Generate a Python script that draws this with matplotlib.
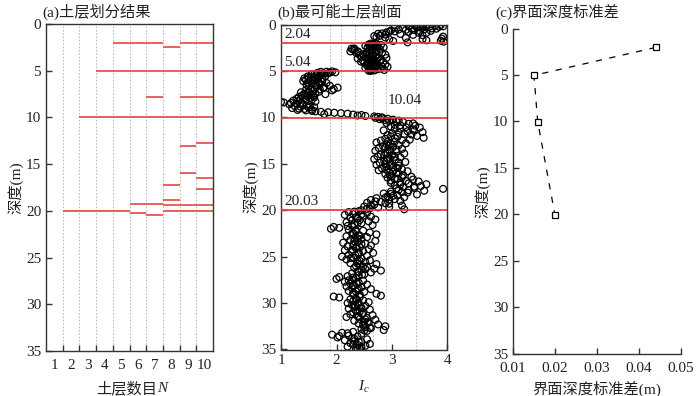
import numpy as np
import matplotlib
matplotlib.use('Agg')
import matplotlib.pyplot as plt

plt.rcParams['font.family'] = ['Liberation Serif', 'Noto Sans CJK SC']
plt.rcParams['mathtext.fontset'] = 'custom'
plt.rcParams['mathtext.rm'] = 'Liberation Serif'
plt.rcParams['mathtext.it'] = 'Liberation Serif:italic'
plt.rc('xtick', labelsize=11, direction='in')
plt.rc('ytick', labelsize=11, direction='in')
plt.rc('xtick.major', size=4, width=1)
plt.rc('ytick.major', size=4, width=1)

# (a) layer boundaries found for each number of layers N = 1..10
n_layers = [1, 2, 3, 4, 5, 6, 7, 8, 9, 10]
layer_bounds = [
    [],
    [20.0],
    [10.0, 20.0],
    [5.0, 10.0, 20.0],
    [2.0, 5.0, 10.0, 20.0],
    [2.0, 5.0, 10.0, 19.3, 20.2],
    [2.0, 5.0, 7.8, 10.0, 19.3, 20.4],
    [2.5, 5.0, 10.0, 17.2, 18.8, 19.4, 20.0],
    [2.0, 5.0, 7.8, 10.0, 13.1, 16.0, 19.4, 20.0],
    [2.0, 5.0, 7.8, 10.0, 12.7, 16.5, 17.7, 19.4, 20.0],
]

# (b) CPT soil behaviour index Ic with depth, per layer
d1 = [0.08, 0.12, 0.15, 0.18, 0.22, 0.25, 0.30, 0.35, 0.38, 0.42, 0.47, 0.52,
      0.55, 0.60, 0.64, 0.70, 0.74, 0.80, 0.85, 0.90, 0.96, 1.02, 1.08, 1.15,
      1.22, 1.30, 1.36, 1.45, 1.52, 1.60, 1.70, 1.78, 1.85, 1.92, 1.98,
      0.05, 0.10, 0.20, 0.28, 0.33, 0.45, 0.58, 0.68, 0.78, 0.88, 1.00, 1.12,
      1.25, 1.40, 1.58, 1.75]
ic1 = [3.62, 3.78, 3.55, 3.30, 3.68, 3.85, 3.45, 3.52, 3.20, 3.72, 3.36, 3.58,
       3.12, 3.40, 2.98, 3.50, 3.05, 3.30, 2.90, 3.62, 2.82, 3.15, 2.88, 3.55,
       2.78, 3.92, 2.72, 3.25, 3.90, 2.95, 3.62, 3.02, 3.93, 3.28, 2.70,
       3.88, 3.40, 3.92, 3.62, 3.05, 3.80, 3.25, 3.70, 2.95, 3.48, 2.75, 3.38,
       2.68, 2.88, 3.55, 3.88]

d2 = [2.05, 2.10, 2.15, 2.20, 2.25, 2.30, 2.35, 2.40, 2.45, 2.50, 2.55, 2.60,
      2.65, 2.70, 2.75, 2.80, 2.85, 2.90, 2.95, 3.00, 3.05, 3.10, 3.15, 3.20,
      3.25, 3.30, 3.35, 3.40, 3.45, 3.50, 3.55, 3.60, 3.65, 3.70, 3.75, 3.80,
      3.85, 3.90, 3.95, 4.00, 4.05, 4.10, 4.15, 4.20, 4.25, 4.30, 4.35, 4.40,
      4.45, 4.50, 4.55, 4.60, 4.65, 4.70, 4.75, 4.80, 4.85, 4.90, 4.95, 5.00,
      2.12, 2.28, 2.42, 2.58, 2.72, 2.88, 3.02, 3.18, 3.32, 3.48, 3.62, 3.78,
      3.92, 4.08, 4.22, 4.38, 4.52, 4.68, 4.82, 4.98]
ic2 = [2.62, 2.70, 2.58, 2.80, 2.66, 2.52, 2.74, 2.61, 2.85, 2.56, 2.68, 2.27,
       2.78, 2.30, 2.60, 2.33, 2.72, 2.25, 2.55, 2.40, 2.82, 2.36, 2.64, 2.48,
       2.88, 2.42, 2.58, 2.70, 2.45, 2.76, 2.52, 2.90, 2.38, 2.66, 2.56, 2.80,
       2.47, 2.62, 2.72, 2.44, 2.84, 2.58, 2.50, 2.68, 2.62, 2.88, 2.54, 2.74,
       2.60, 2.66, 2.92, 2.57, 2.70, 2.52, 2.78, 2.64, 2.60, 2.86, 2.68, 2.62,
       2.66, 2.60, 2.72, 2.32, 2.64, 2.38, 2.70, 2.55, 2.66, 2.62, 2.74, 2.58,
       2.78, 2.66, 2.56, 2.70, 2.82, 2.60, 2.74, 2.58]

d3 = [5.05, 5.10, 5.15, 5.20, 5.25, 5.30, 5.35, 5.40, 5.50, 5.60, 5.70, 5.80,
      5.90, 6.00, 6.10, 6.20, 6.30, 6.40, 6.50, 6.60, 6.70, 6.80, 6.85, 6.90,
      7.00, 7.10, 7.20, 7.30, 7.40, 7.50, 7.60, 7.70, 7.80, 7.90, 8.00, 8.10,
      8.20, 8.30, 8.35, 8.40, 8.45, 8.50, 8.60, 8.70, 8.80, 8.90, 9.00, 9.10,
      9.20, 9.30, 9.40, 9.45, 9.50, 9.55, 9.60, 9.65, 9.70, 9.75, 9.80, 9.85,
      9.90, 9.95, 10.00,
      5.08, 5.18, 5.28, 5.45, 5.55, 5.65, 5.75, 5.85, 5.95, 6.05, 6.15, 6.25,
      6.35, 6.45, 6.55, 6.65, 6.75, 6.95, 7.05, 7.15, 7.25, 7.35, 7.45, 7.55,
      7.65, 7.75, 7.85, 7.95, 8.05, 8.15, 8.25, 8.55, 8.65, 8.75, 8.85, 8.95,
      9.05, 9.15, 9.25, 9.35]
ic3 = [1.92, 1.72, 1.98, 1.66, 1.85, 1.78, 1.60, 1.55, 1.70, 1.48, 1.62, 1.42,
       1.75, 1.52, 1.40, 1.68, 1.82, 1.58, 1.46, 1.88, 1.64, 2.02, 1.76, 1.55,
       1.70, 1.92, 1.50, 1.36, 1.62, 1.80, 1.44, 1.58, 1.32, 1.52, 1.28, 1.45,
       1.22, 1.62, 1.00, 1.05, 1.18, 1.38, 1.15, 1.52, 1.25, 1.60, 1.20, 1.42,
       1.30, 1.56, 1.72, 1.85, 1.96, 2.08, 2.20, 1.78, 2.30, 2.45, 2.38, 2.52,
       2.68, 2.75, 2.82,
       1.82, 1.88, 1.74, 1.64, 1.80, 1.58, 1.50, 1.66, 1.45, 1.60, 1.74, 1.48,
       1.55, 1.70, 1.62, 1.50, 1.78, 1.95, 1.45, 1.58, 1.68, 1.50, 1.42, 1.55,
       1.38, 1.48, 1.60, 1.42, 1.35, 1.55, 1.30, 1.28, 1.40, 1.46, 1.35, 1.50,
       1.32, 1.55, 1.45, 1.62]

d4 = [10.05, 10.1, 10.15, 10.2, 10.25, 10.3, 10.35, 10.4,
      10.5, 10.6, 10.7, 10.8, 10.9, 11.0, 11.1, 11.2, 11.3, 11.4, 11.5, 11.6,
      11.7, 11.8, 11.9, 12.0, 12.1, 12.2, 12.3, 12.4, 12.5, 12.6, 12.7, 12.8,
      12.9, 13.0, 13.1, 13.2, 13.3, 13.4, 13.5, 13.6, 13.7, 13.8, 13.9, 14.0,
      14.1, 14.2, 14.3, 14.4, 14.5, 14.6, 14.7, 14.8, 14.9, 15.0, 15.1, 15.2,
      15.3, 15.4, 15.5, 15.6, 15.7, 15.8, 15.9, 16.0, 16.1, 16.2, 16.3, 16.4,
      16.5, 16.6, 16.7, 16.8, 16.9, 17.0, 17.1, 17.2, 17.3, 17.4, 17.5, 17.6,
      17.7, 17.8, 17.9, 18.0, 18.1, 18.2, 18.3, 18.4, 18.5, 18.6, 18.7, 18.8,
      18.9, 19.0, 19.1, 19.2, 19.3, 19.4, 19.5, 19.6, 19.7, 19.8, 19.9, 20.0,
      10.45, 10.65, 10.85, 11.05, 11.25, 11.45, 11.65, 11.85, 12.05, 12.25,
      12.45, 12.65, 12.85, 13.05, 13.25, 13.45, 13.65, 13.85, 14.05, 14.25,
      14.45, 14.65, 14.85, 15.05, 15.25, 15.45, 15.65, 15.85, 16.05, 16.25,
      16.45, 16.65, 16.85, 17.05, 17.25, 17.45, 17.65, 17.85, 18.05, 18.25,
      18.45, 18.65, 18.85, 19.05, 19.25, 19.45, 19.65, 19.85]
ic4 = [2.70, 2.82, 2.92, 2.78, 3.02, 2.88, 3.12, 2.95,
       3.20, 2.90, 3.30, 3.05, 3.42, 2.98, 3.50, 3.15, 3.38, 2.85, 3.28,
       3.55, 3.00, 3.22, 2.92, 3.45, 3.10, 3.57, 2.88, 3.32, 2.80,
       3.05, 2.72, 3.25, 2.90, 3.12, 2.84, 3.02, 2.76, 3.18, 2.95,
       2.70, 3.08, 2.88, 3.22, 2.80, 3.00, 2.74, 3.15, 2.92, 2.68,
       3.05, 2.86, 3.24, 2.78, 2.98, 2.72, 3.12, 2.90, 3.02, 2.82,
       3.18, 2.76, 3.28, 2.95, 3.08, 2.88, 3.20, 3.00, 3.35, 2.92,
       3.10, 3.38, 2.98, 3.48, 3.15, 3.30, 3.62, 3.05, 3.52, 3.20,
       3.40, 3.92, 3.12, 3.58, 2.98, 3.28, 2.85, 3.45, 3.10, 2.92,
       3.22, 2.72, 3.05, 2.62, 3.15, 2.80, 2.55, 2.95, 2.68, 3.18,
       2.50, 2.75, 2.60, 3.22, 2.45,
       3.08, 3.38, 3.15, 3.25, 3.05, 3.40, 3.12, 3.35, 2.98, 3.05,
       3.18, 2.92, 2.98, 2.94, 2.88, 3.08, 2.96, 2.92, 2.86, 3.05,
       2.96, 2.90, 3.12, 2.88, 2.96, 3.10, 2.90, 3.02, 3.12, 2.96,
       3.18, 3.05, 3.25, 2.98, 3.15, 3.40, 3.08, 3.30, 3.18, 2.98,
       3.02, 2.88, 2.95, 2.70, 2.88, 2.62, 2.95, 2.55]

d5 = [20.1, 20.2, 20.3, 20.4, 20.5, 20.6, 20.7, 20.8, 20.9, 21.0,
      21.1, 21.2, 21.3, 21.4, 21.5, 21.6, 21.7, 21.8, 21.9, 22.0,
      22.1, 22.2, 22.3, 22.4, 22.5, 22.6, 22.7, 22.8, 22.9, 23.0,
      23.1, 23.2, 23.3, 23.4, 23.5, 23.6, 23.7, 23.8, 23.9, 24.0,
      24.1, 24.2, 24.3, 24.4, 24.5, 24.6, 24.7, 24.8, 24.9, 25.0,
      25.1, 25.2, 25.3, 25.4, 25.5, 25.6, 25.7, 25.8, 25.9, 26.0,
      26.1, 26.2, 26.3, 26.4, 26.5, 26.6, 26.7, 26.8, 26.9, 27.0,
      27.1, 27.2, 27.3, 27.4, 27.5, 27.6, 27.7, 27.8, 27.9, 28.0,
      28.1, 28.2, 28.3, 28.4, 28.5, 28.6, 28.7, 28.8, 28.9, 29.0,
      29.1, 29.2, 29.3, 29.4, 29.5, 29.6, 29.7, 29.8, 29.9, 30.0,
      30.1, 30.2, 30.3, 30.4, 30.5, 30.6, 30.7, 30.8, 30.9, 31.0,
      31.1, 31.2, 31.3, 31.4, 31.5, 31.6, 31.7, 31.8, 31.9, 32.0,
      32.1, 32.2, 32.3, 32.4, 32.5, 32.6, 32.7, 32.8, 32.9, 33.0,
      33.1, 33.2, 33.3, 33.4, 33.5, 33.6, 33.7, 33.8, 33.9, 34.0,
      34.1, 34.2, 34.3, 34.4, 34.5, 34.6, 34.7, 34.8, 34.9,
      20.15, 20.45, 20.75, 21.05, 21.35, 21.65, 22.15, 22.45, 22.75, 23.05,
      23.35, 23.65, 23.95, 24.25, 24.55, 24.85, 25.15, 25.45, 25.75, 26.05,
      26.35, 26.65, 26.95, 27.25, 27.55, 27.85, 28.15, 28.45, 28.75, 29.05,
      29.35, 29.65, 29.95, 30.25, 30.55, 30.85, 31.15, 31.45, 31.75, 32.05,
      32.35, 32.65, 32.95, 33.25, 33.55, 33.85, 34.15, 34.45, 34.75, 34.95]
ic5 = [2.40, 2.22, 2.55, 2.30, 2.15, 2.48, 2.62, 2.25, 2.38, 2.70,
       2.28, 2.58, 2.18, 2.45, 2.32, 2.65, 2.20, 1.95, 2.05, 1.90,
       2.22, 2.48, 2.35, 2.60, 2.28, 2.72, 2.40, 2.18, 2.55, 2.32,
       2.45, 2.25, 2.70, 2.38, 2.12, 2.52, 2.30, 2.62, 2.20, 2.42,
       2.35, 2.58, 2.15, 2.48, 2.28, 2.66, 2.40, 2.22, 2.55, 2.10,
       2.30, 2.45, 2.18, 2.60, 2.38, 2.52, 2.25, 2.72, 2.42, 2.35,
       2.55, 2.32, 2.68, 2.45, 2.80, 2.38, 2.62, 2.28, 2.50, 2.40,
       2.20, 2.05, 2.35, 2.00, 2.28, 2.48, 2.15, 2.40, 2.25, 2.55,
       2.32, 2.18, 2.45, 2.28, 2.62, 2.38, 2.22, 2.50, 2.30, 2.72,
       2.42, 2.80, 1.95, 2.05, 2.35, 2.25, 2.48, 2.30, 2.58, 2.20,
       2.38, 2.28, 2.52, 2.32, 2.45, 2.22, 2.60, 2.35, 2.42, 2.30,
       2.48, 2.25, 2.65, 2.38, 2.18, 2.55, 2.42, 2.70, 2.32, 2.50,
       2.58, 2.40, 2.75, 2.48, 2.88, 2.52, 2.62, 2.45, 2.85, 2.55,
       2.30, 2.10, 2.45, 1.92, 2.22, 2.38, 2.02, 2.28, 2.55, 2.15,
       2.32, 2.45, 2.25, 2.60, 2.38, 2.52, 2.20, 2.42, 2.35,
       2.32, 2.45, 2.35, 2.42, 2.38, 2.28, 2.35, 2.30, 2.42, 2.38,
       2.32, 2.45, 2.36, 2.28, 2.40, 2.34, 2.26, 2.42, 2.38, 2.48,
       2.52, 2.40, 2.46, 2.30, 2.22, 2.36, 2.30, 2.40, 2.35, 2.30,
       2.42, 2.36, 2.40, 2.34, 2.44, 2.38, 2.46, 2.40, 2.52, 2.56,
       2.48, 2.60, 2.50, 2.20, 2.05, 2.32, 2.40, 2.30, 2.45, 2.38]

# most probable interfaces and their std
iface_depth = [2.04, 5.04, 10.04, 20.03]
iface_std = [0.0440, 0.0150, 0.0159, 0.0200]
ic_grid = [1.88, 2.09, 2.33, 2.66, 2.90, 3.44]

W, H = 700, 396
fig = plt.figure(figsize=(W / 100, H / 100), dpi=100)

def add_ax(x0, x1, y0, y1):
    return fig.add_axes([x0 / W, 1 - y1 / H, (x1 - x0) / W, (y1 - y0) / H])

txt_col = '#222222'
spine_col = '#333333'

# ---------- (a) ----------
ax1 = add_ax(46, 213, 24, 351)
for n, bounds in zip(n_layers, layer_bounds):
    for b in bounds:
        ax1.hlines(b, n - 1, n, color='#e8473f', lw=1.2)
for g in range(1, 10):
    ax1.axvline(g, color='#b0b0b0', lw=0.6, ls=(0, (2, 2)), zorder=0)
ax1.set_xlim(0, 10)
ax1.set_ylim(35, 0)
ax1.set_xticks(np.arange(1, 10))
ax1.set_xticklabels([''] * 9)
ax1.set_xticks(np.arange(0.5, 10), labels=[str(n) for n in n_layers], minor=True)
ax1.tick_params(axis='x', which='minor', length=0, pad=6)
ax1.set_yticks(np.arange(0, 36, 5))
ax1.set_ylabel('深度(m)', fontsize=11, color=txt_col, labelpad=2)
# x label: CJK part plus italic N
fig.text(157 / W, 1 - 389 / H, '土层数目', fontsize=11, color=txt_col,
         ha='right', va='center')
fig.text(157 / W, 1 - 389 / H, 'N', fontsize=11, color=txt_col,
         ha='left', va='center', style='italic')

# ---------- (b) ----------
ax2 = add_ax(281, 447.5, 24.5, 349.5)
for g in ic_grid:
    ax2.axvline(g, color='#b0b0b0', lw=0.6, ls=(0, (2, 2)), zorder=0)
for d, ic in [(d1, ic1), (d2, ic2), (d3, ic3), (d4, ic4), (d5, ic5)]:
    ax2.scatter(ic, d, s=24, facecolors='none', edgecolors='black',
                linewidths=0.9, zorder=2)
for b in iface_depth:
    ax2.axhline(b, color='#e83535', lw=1.2, zorder=3)
for b in [2.04, 5.04, 20.03]:
    ax2.text(1.06, b - 0.25, '%.2f' % b, fontsize=11, color=txt_col,
             ha='left', va='bottom', zorder=4)
ax2.text(2.93, 8.15, '%.2f' % iface_depth[2], fontsize=11, color=txt_col,
         ha='left', va='center', zorder=4)
ax2.set_xlim(1, 4)
ax2.set_ylim(35, 0)
ax2.set_xticks([1, 2, 3, 4])
ax2.set_yticks(np.arange(0, 36, 5))
ax2.set_xlabel('$I_c$', fontsize=11, color=txt_col, labelpad=8)
ax2.set_ylabel('深度(m)', fontsize=11, color=txt_col, labelpad=2)

# ---------- (c) ----------
ax3 = add_ax(513, 680.7, 28.5, 354)
ax3.plot(iface_std, iface_depth, color='black', lw=0.9, ls=(0, (5, 6)),
         marker='s', markersize=4.5, markerfacecolor='white',
         markeredgecolor='black', markeredgewidth=0.9, clip_on=False)
ax3.set_xlim(0.01, 0.05)
ax3.set_ylim(35, 0)
ax3.set_xticks([0.01, 0.02, 0.03, 0.04, 0.05])
ax3.set_xticklabels(['0.01', '0.02', '0.03', '0.04', '0.05'])
ax3.tick_params(axis='x', pad=6)
ax3.set_yticks(np.arange(0, 36, 5))
ax3.spines['top'].set_visible(False)
ax3.spines['right'].set_visible(False)
ax3.set_xlabel('界面深度标准差(m)', fontsize=11, color=txt_col, labelpad=4)
ax3.set_ylabel('深度(m)', fontsize=11, color=txt_col, labelpad=2)

for ax in (ax1, ax2, ax3):
    for s in ax.spines.values():
        s.set_color(spine_col)
        s.set_linewidth(1.0)
    ax.tick_params(colors=spine_col, labelcolor=txt_col, which='both')

fig.text(42 / W, 1 - 12 / H, '(a)土层划分结果', fontsize=11, color=txt_col, va='center')
fig.text(277 / W, 1 - 12 / H, '(b)最可能土层剖面', fontsize=11, color=txt_col, va='center')
fig.text(495 / W, 1 - 12 / H, '(c)界面深度标准差', fontsize=11, color=txt_col, va='center')

fig.savefig('out.png', dpi=100)
